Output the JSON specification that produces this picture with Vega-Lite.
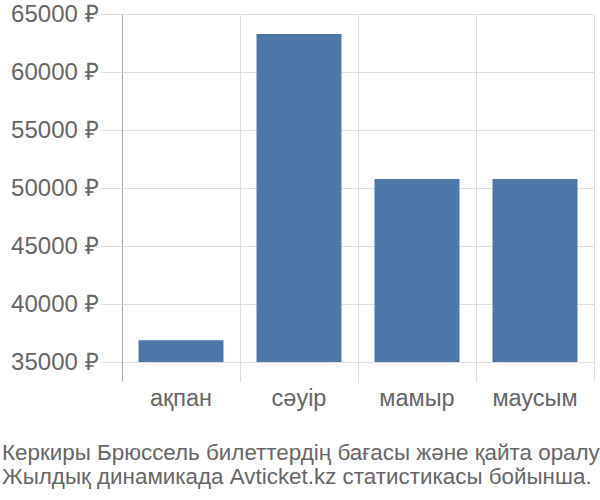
{
  "$schema": "https://vega.github.io/schema/vega-lite/v6.json",
  "autosize": "none",
  "width": 472,
  "height": 348,
  "padding": {"left": 122, "top": 14, "right": 6, "bottom": 138},
  "background": "white",
  "config": {
    "view": {"stroke": null},
    "font": "Liberation Sans"
  },
  "title": {
    "text": ["Керкиры Брюссель билеттердің бағасы және қайта оралу", "Жылдық динамикада Avticket.kz статистикасы бойынша."],
    "orient": "bottom",
    "anchor": "start",
    "frame": "group",
    "dx": -120,
    "offset": 32,
    "fontSize": 22.4,
    "fontWeight": "normal",
    "lineHeight": 24,
    "color": "#666666",
    "font": "Liberation Sans"
  },
  "data": {
    "values": [
      {"month": "ақпан", "price": 36870},
      {"month": "сәуір", "price": 63280},
      {"month": "мамыр", "price": 50780},
      {"month": "маусым", "price": 50780}
    ]
  },
  "encoding": {
    "x": {
      "field": "month",
      "type": "nominal",
      "sort": null,
      "scale": {"paddingInner": 0, "paddingOuter": 0}
    },
    "y": {
      "field": "price",
      "type": "quantitative",
      "scale": {"domain": [35000, 65000], "zero": false, "nice": false},
      "axis": {
        "title": null,
        "domain": false,
        "values": [35000, 40000, 45000, 50000, 55000, 60000, 65000],
        "labelExpr": "datum.value + ' ₽'",
        "grid": true,
        "gridColor": "#dddddd",
        "tickColor": "#dddddd",
        "tickSize": 22,
        "labelFontSize": 24,
        "labelColor": "#666666",
        "labelPadding": 2
      }
    }
  },
  "layer": [
    {
      "mark": {"type": "bar", "color": "#4c78a8", "opacity": 0, "clip": true},
      "encoding": {
        "x": {
          "field": "month",
          "type": "nominal",
          "sort": null,
          "axis": {
            "orient": "bottom",
            "title": null,
            "domain": false,
            "labels": false,
            "grid": true,
            "gridColor": "#dddddd",
            "tickColor": "#dddddd",
            "tickBand": "extent",
            "tickSize": 19
          }
        }
      }
    },
    {
      "mark": {"type": "bar", "color": "#4c78a8", "width": {"band": 0.72}, "clip": true},
      "encoding": {
        "x": {
          "field": "month",
          "type": "nominal",
          "sort": null,
          "axis": {
            "orient": "bottom",
            "title": null,
            "domain": false,
            "grid": true,
            "bandPosition": 0,
            "gridColor": {"condition": {"test": "datum.index === 0", "value": "#aaaaaa"}, "value": "#dddddd"},
            "tickColor": {"condition": {"test": "datum.index === 0", "value": "#aaaaaa"}, "value": "#dddddd"},
            "tickSize": 19,
            "labelAngle": 0,
            "labelFontSize": 23.5,
            "labelColor": "#666666",
            "labelPadding": 5
          }
        }
      }
    }
  ],
  "resolve": {"axis": {"x": "independent"}}
}
